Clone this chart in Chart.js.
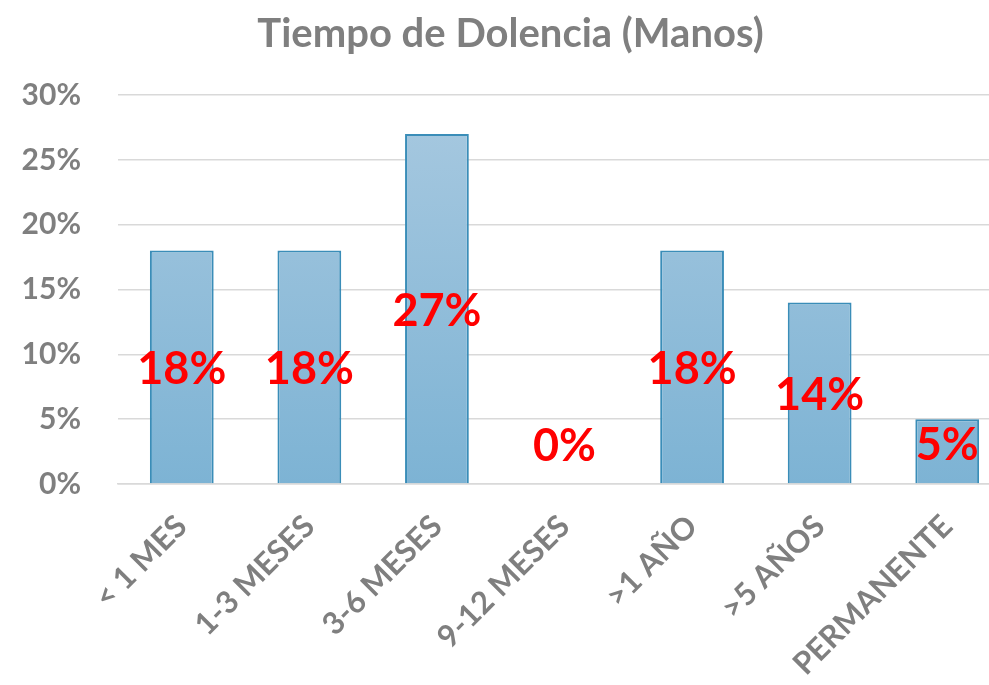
<!DOCTYPE html>
<html>
<head>
<meta charset="utf-8">
<script src="https://cdn.jsdelivr.net/npm/chart.js@4/dist/chart.umd.min.js"></script>
<style>
  html, body { margin: 0; padding: 0; background: #fff; overflow: hidden; }
  #wrap { width: 1011px; height: 685px; }
</style>
</head>
<body>
<div id="wrap"><canvas id="dolenciaChart"></canvas></div>
<script>
// Tiempo de Dolencia (Manos) - percentages per duration bucket
const categories = ['< 1 MES', '1-3 MESES', '3-6 MESES', '9-12 MESES', '>1 AÑO', '>5 AÑOS', 'PERMANENTE'];
const percentages = [18, 18, 27, 0, 18, 14, 5];
const yTicks = [0, 5, 10, 15, 20, 25, 30];

const FONT = 'Lato, "Open Sans", sans-serif';
const GREY = '#7f7f7f';

// red value labels centred in the bar, kept above the axis for short bars
const valueLabels = {
    id: 'valueLabels',
    afterDatasetsDraw(chart) {
        const ctx = chart.ctx;
        const meta = chart.getDatasetMeta(0);
        ctx.save();
        ctx.font = 'bold 45px ' + FONT;
        ctx.fillStyle = '#ff0000';
        ctx.textAlign = 'center';
        ctx.textBaseline = 'middle';
        meta.data.forEach((bar, i) => {
            const mid = (bar.y + bar.base) / 2;
            const y = Math.min(mid, bar.base - 41) + 3;
            ctx.fillText(percentages[i] + '%', bar.x, y);
        });
        ctx.restore();
    }
};

const ctx = document.getElementById('dolenciaChart').getContext('2d');
new Chart(ctx, {
    type: 'bar',
    data: {
        labels: categories,
        datasets: [{
            data: percentages,
            backgroundColor: c => {
                const area = c.chart.chartArea;
                if (!area) return '#8fbad8';
                const g = c.chart.ctx.createLinearGradient(0, area.top, 0, area.bottom);
                g.addColorStop(0, '#a8c9e0');
                g.addColorStop(1, '#7db3d4');
                return g;
            },
            borderColor: '#3a8db8',
            borderWidth: 2,
            categoryPercentage: 1,
            barPercentage: 0.5
        }]
    },
    options: {
        responsive: true,
        maintainAspectRatio: false,
        animation: false,
        layout: { padding: { left: 10, right: 0, top: 10, bottom: 0 } },
        plugins: {
            legend: { display: false },
            tooltip: { enabled: false },
            title: {
                display: true,
                text: 'Tiempo de Dolencia (Manos)',
                color: GREY,
                font: { family: FONT, size: 40, weight: 'bold' },
                padding: { top: 0, bottom: 37 }
            }
        },
        scales: {
            y: {
                min: 0,
                max: 30,
                afterBuildTicks: s => { s.ticks = yTicks.map(v => ({ value: v })); },
                afterFit: s => { s.width = 108; },
                border: { display: false },
                grid: { color: '#d9d9d9', lineWidth: 1.5, drawTicks: false },
                ticks: {
                    color: GREY,
                    padding: 37,
                    font: { family: FONT, size: 30, weight: 'bold' },
                    callback: v => v + '%'
                }
            },
            x: {
                afterFit: s => { s.height = 201; },
                border: { color: '#d9d9d9', width: 1.5 },
                grid: { display: false },
                ticks: {
                    color: GREY,
                    maxRotation: 45,
                    minRotation: 45,
                    padding: 16,
                    font: { family: FONT, size: 31, weight: 'bold' }
                }
            }
        }
    },
    plugins: [valueLabels]
});
</script>
</body>
</html>
